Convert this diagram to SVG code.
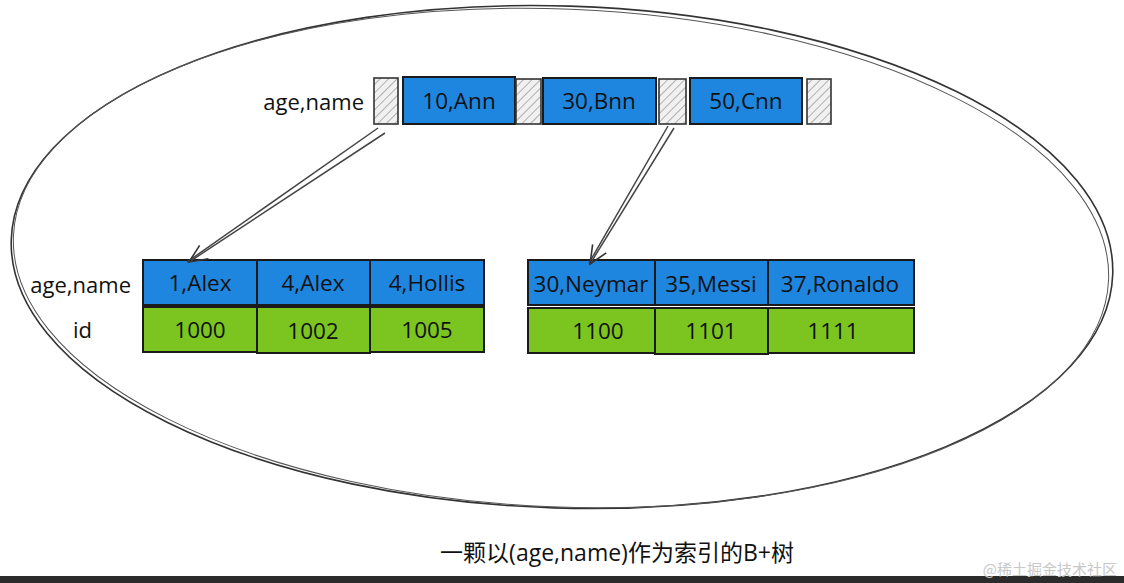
<svg xmlns="http://www.w3.org/2000/svg" width="1124" height="583" viewBox="0 0 1124 583">
<defs>
<pattern id="hatch" patternUnits="userSpaceOnUse" width="6" height="6" patternTransform="rotate(45)">
<rect width="6" height="6" fill="#f1f1f1"/>
<line x1="0" y1="0" x2="0" y2="6" stroke="#9a9a9a" stroke-width="1.5"/>
</pattern>
<marker id="arr" markerWidth="22" markerHeight="22" refX="20" refY="11" orient="auto" markerUnits="userSpaceOnUse">
<path d="M2,3 L20,11 L2,19" fill="none" stroke="#333" stroke-width="1.6"/>
</marker>
</defs>
<style>
.blue{fill:#1f86e0;stroke:#1a1a1a;stroke-width:2}
.green{fill:#7cc520;stroke:#1a1a1a;stroke-width:2}
.hat{fill:url(#hatch);stroke:#333;stroke-width:1.6}
.t{font-family:"Open Sans","Liberation Sans",sans-serif;font-size:22.5px;fill:#111;text-anchor:middle}
.lbl{font-family:"Open Sans","Liberation Sans",sans-serif;font-size:22px;fill:#111;text-anchor:end}
.edge{fill:none;stroke:#444;stroke-width:1.5}
</style>
<rect width="1124" height="583" fill="#ffffff"/>
<g id="ellipse">
<ellipse cx="562" cy="257" rx="551" ry="251" fill="none" stroke="#333" stroke-width="1.6" transform="rotate(1.8 562 257)"/>
<ellipse cx="561" cy="258" rx="548" ry="249" fill="none" stroke="#555" stroke-width="1" transform="rotate(2.3 561 258)"/>
</g>
<g id="root">
<text class="lbl" x="364" y="110">age,name</text>
<rect class="hat" x="374" y="78" width="24" height="46"/>
<rect class="blue" x="403" y="77" width="112" height="47"/>
<text class="t" x="459" y="109">10,Ann</text>
<rect class="hat" x="516" y="79" width="25" height="45"/>
<rect class="blue" x="543" y="78" width="113" height="46"/>
<text class="t" x="599" y="109">30,Bnn</text>
<rect class="hat" x="659" y="79" width="27" height="45"/>
<rect class="blue" x="690" y="78" width="112" height="46"/>
<text class="t" x="746" y="109">50,Cnn</text>
<rect class="hat" x="807" y="79" width="24" height="45"/>
</g>
<g id="leaf-left">
<text class="lbl" x="131" y="293">age,name</text>
<text class="lbl" x="92" y="338">id</text>
<rect class="blue" x="143" y="260" width="114" height="45"/>
<text class="t" x="200" y="291">1,Alex</text>
<rect class="blue" x="257" y="260" width="113" height="45"/>
<text class="t" x="313" y="291">4,Alex</text>
<rect class="blue" x="370" y="260" width="114" height="45"/>
<text class="t" x="427" y="291">4,Hollis</text>
<rect class="green" x="143" y="307" width="114" height="45"/>
<text class="t" x="200" y="338">1000</text>
<rect class="green" x="257" y="307" width="113" height="46"/>
<text class="t" x="313" y="339">1002</text>
<rect class="green" x="370" y="307" width="114" height="45"/>
<text class="t" x="427" y="338">1005</text>
</g>
<g id="leaf-right">
<rect class="blue" x="528" y="260" width="127" height="45"/>
<text class="t" x="591" y="292">30,Neymar</text>
<rect class="blue" x="655" y="260" width="113" height="45"/>
<text class="t" x="711" y="292">35,Messi</text>
<rect class="blue" x="768" y="260" width="146" height="45"/>
<text class="t" x="840" y="292">37,Ronaldo</text>
<rect class="green" x="528" y="308" width="127" height="45"/>
<text class="t" x="598" y="339">1100</text>
<rect class="green" x="655" y="308" width="113" height="46"/>
<text class="t" x="711" y="339">1101</text>
<rect class="green" x="768" y="308" width="146" height="45"/>
<text class="t" x="833" y="339">1111</text>
</g>
<g id="connectors">
<line class="edge" x1="378" y1="128" x2="187" y2="262"/>
<line class="edge" x1="385" y1="133" x2="189" y2="262" marker-end="url(#arr)"/>
<line class="edge" x1="668" y1="126" x2="589" y2="263"/>
<line class="edge" x1="674" y1="128" x2="590" y2="264" marker-end="url(#arr)"/>
</g>
<g id="caption">
<text x="617" y="561" font-family="'Open Sans','Noto Sans CJK SC',sans-serif" font-size="23" fill="#111" text-anchor="middle">一颗以(age,name)作为索引的B+树</text>
</g>
<rect x="0" y="576" width="1124" height="7" fill="#2b2b2b"/>
<text x="1117" y="575" font-family="'Noto Sans CJK SC',sans-serif" font-size="15" fill="#c8c8c8" text-anchor="end">@稀土掘金技术社区</text>
</svg>
